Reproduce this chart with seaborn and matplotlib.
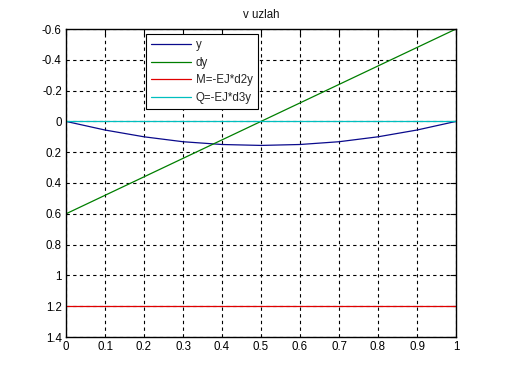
import numpy as np
import pandas as pd
import matplotlib
matplotlib.use("Agg")
import matplotlib.pyplot as plt
import seaborn as sns

x = [0.0, 0.1, 0.2, 0.3, 0.4, 0.5, 0.6, 0.7, 0.8, 0.9, 1.0]
y_vals = [0.0, 0.056, 0.100, 0.132, 0.150, 0.156, 0.150, 0.132, 0.100, 0.056, 0.0]
dy_vals = [0.6, 0.48, 0.36, 0.24, 0.12, 0.0, -0.12, -0.24, -0.36, -0.48, -0.6]
m_vals = [1.2] * 11
q_vals = [0.0] * 11
labels = ["y", "dy", "M=-EJ*d2y", "Q=-EJ*d3y"]
colors = ["#0a0a8c", "#007f00", "#e00000", "#00bfbf"]
title = "v uzlah"
xticks = [0, 0.1, 0.2, 0.3, 0.4, 0.5, 0.6, 0.7, 0.8, 0.9, 1]
xticklabels = ["0", "0.1", "0.2", "0.3", "0.4", "0.5", "0.6", "0.7", "0.8", "0.9", "1"]
yticks = [-0.6, -0.4, -0.2, 0, 0.2, 0.4, 0.6, 0.8, 1, 1.2, 1.4]
yticklabels = ["-0.6", "-0.4", "-0.2", "0", "0.2", "0.4", "0.6", "0.8", "1", "1.2", "1.4"]

sns.set_theme(style="white")
plt.rcParams['font.family'] = ['Liberation Sans', 'DejaVu Sans']

fig = plt.figure(figsize=(5.05, 3.79), dpi=100)
ax = fig.add_axes([66/505, 1-337/379, 390/505, 308/379])

series = [y_vals, dy_vals, m_vals, q_vals]
for vals, lab, col in zip(series, labels, colors):
    df = pd.DataFrame({"x": x, "v": vals})
    sns.lineplot(data=df, x="x", y="v", ax=ax, color=col, label=lab,
                 linewidth=0.9, sort=False)

ax.set_xlim(0, 1)
ax.set_ylim(1.4, -0.6)
ax.set_xticks(xticks)
ax.set_xticklabels(xticklabels)
ax.set_yticks(yticks)
ax.set_yticklabels(yticklabels)
ax.set_xlabel("")
ax.set_ylabel("")
ax.set_axisbelow(True)
ax.grid(True, color="black", linestyle=(0, (3, 3)), linewidth=0.8)
for s in ax.spines.values():
    s.set_color("black")
    s.set_linewidth(1.0)
    s.set_visible(True)
    s.set_zorder(5)
ax.tick_params(axis="both", direction="in", length=4, width=0.8, colors="black",
               labelsize=8.3, top=True, right=True, pad=3)
ax.set_title(title, fontsize=8.3, pad=8, color="#111111")

leg = ax.legend(loc="upper left", bbox_to_anchor=(0.205, 0.985), fontsize=8.3,
                frameon=True, fancybox=False, edgecolor="black", framealpha=1,
                handlelength=3.5, borderpad=0.45, labelspacing=0.5, handletextpad=0.35,
                borderaxespad=0)
leg.get_frame().set_linewidth(0.8)
leg.set_zorder(10)

fig.savefig("out.png", dpi=100, facecolor="white")
